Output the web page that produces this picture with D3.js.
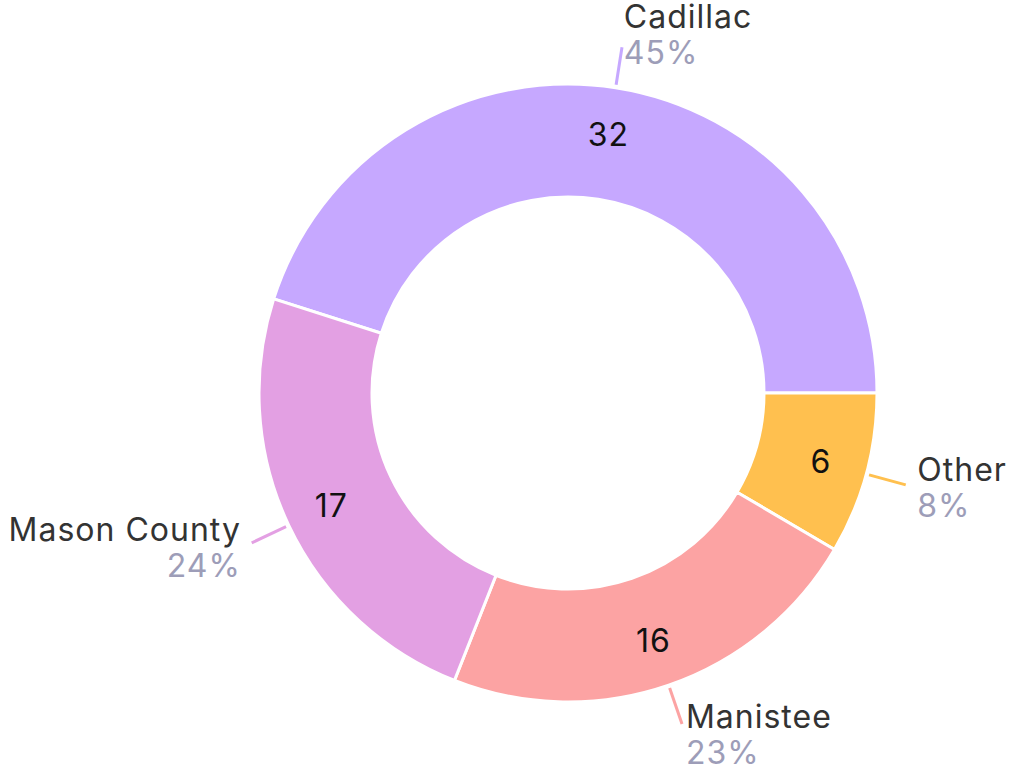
<!DOCTYPE html>
<html><head><meta charset="utf-8">
<script src="https://cdn.jsdelivr.net/npm/d3@7"></script>
<style>
html,body{margin:0;padding:0;background:#fff;}
svg{display:block;}
text{font-family:Inter, "Noto Sans", sans-serif;}
</style></head>
<body>
<svg id="chart" width="1017" height="767"></svg>
<script>
const categories = ["Cadillac", "Other", "Manistee", "Mason County"];
const values = [32, 6, 16, 17];
const colors = ["#c6a8ff", "#ffc04f", "#fca3a3", "#e3a0e3"];

const cx = 568, cy = 393, outerR = 309, innerR = 196;
const total = d3.sum(values);
const data = categories.map((c, i) => ({name: c, value: values[i], color: colors[i]}));

const svg = d3.select("#chart");
const g = svg.append("g").attr("transform", `translate(${cx},${cy})`);

const start = Math.PI / 2 - values[0] / total * 2 * Math.PI;
const pie = d3.pie().value(d => d.value).sort(null)
  .startAngle(start).endAngle(start + 2 * Math.PI);
const arcs = pie(data);
const arc = d3.arc().innerRadius(innerR).outerRadius(outerR);

g.selectAll("path.slice").data(arcs).join("path")
  .attr("class", "slice")
  .attr("d", arc)
  .attr("fill", d => d.data.color)
  .attr("stroke", "#fff")
  .attr("stroke-width", 3);

const mid = d => (d.startAngle + d.endAngle) / 2;
const labelR = 262;
g.selectAll("text.val").data(arcs).join("text")
  .attr("class", "val")
  .attr("x", d => labelR * Math.sin(mid(d)))
  .attr("y", d => -labelR * Math.cos(mid(d)))
  .attr("text-anchor", "middle")
  .attr("dominant-baseline", "central")
  .attr("font-size", 32)
  .attr("letter-spacing", 1)
  .attr("fill", "#111")
  .text(d => d.data.value);

const r1 = 312, r2 = 350, off = 12;
g.selectAll("line.lead").data(arcs).join("line")
  .attr("class", "lead")
  .attr("x1", d => r1 * Math.sin(mid(d)))
  .attr("y1", d => -r1 * Math.cos(mid(d)))
  .attr("x2", d => r2 * Math.sin(mid(d)))
  .attr("y2", d => -r2 * Math.cos(mid(d)))
  .attr("stroke", d => d.data.color)
  .attr("stroke-width", 3);

const lab = g.selectAll("g.lab").data(arcs).join("g").attr("class", "lab")
  .attr("transform", d => {
    const a = mid(d);
    const x = (r2 + off) * Math.sin(a);
    const y = -(r2 + off) * Math.cos(a);
    return `translate(${x},${y})`;
  });
lab.append("text")
  .attr("y", -7)
  .attr("text-anchor", d => Math.sin(mid(d)) >= 0 ? "start" : "end")
  .attr("font-size", 32)
  .attr("letter-spacing", 1)
  .attr("fill", "#333")
  .text(d => d.data.name);
lab.append("text")
  .attr("y", 29)
  .attr("text-anchor", d => Math.sin(mid(d)) >= 0 ? "start" : "end")
  .attr("font-size", 32)
  .attr("letter-spacing", 1)
  .attr("fill", "#9d9db8")
  .text(d => Math.round(d.data.value / total * 100) + "%");
</script>
</body></html>
